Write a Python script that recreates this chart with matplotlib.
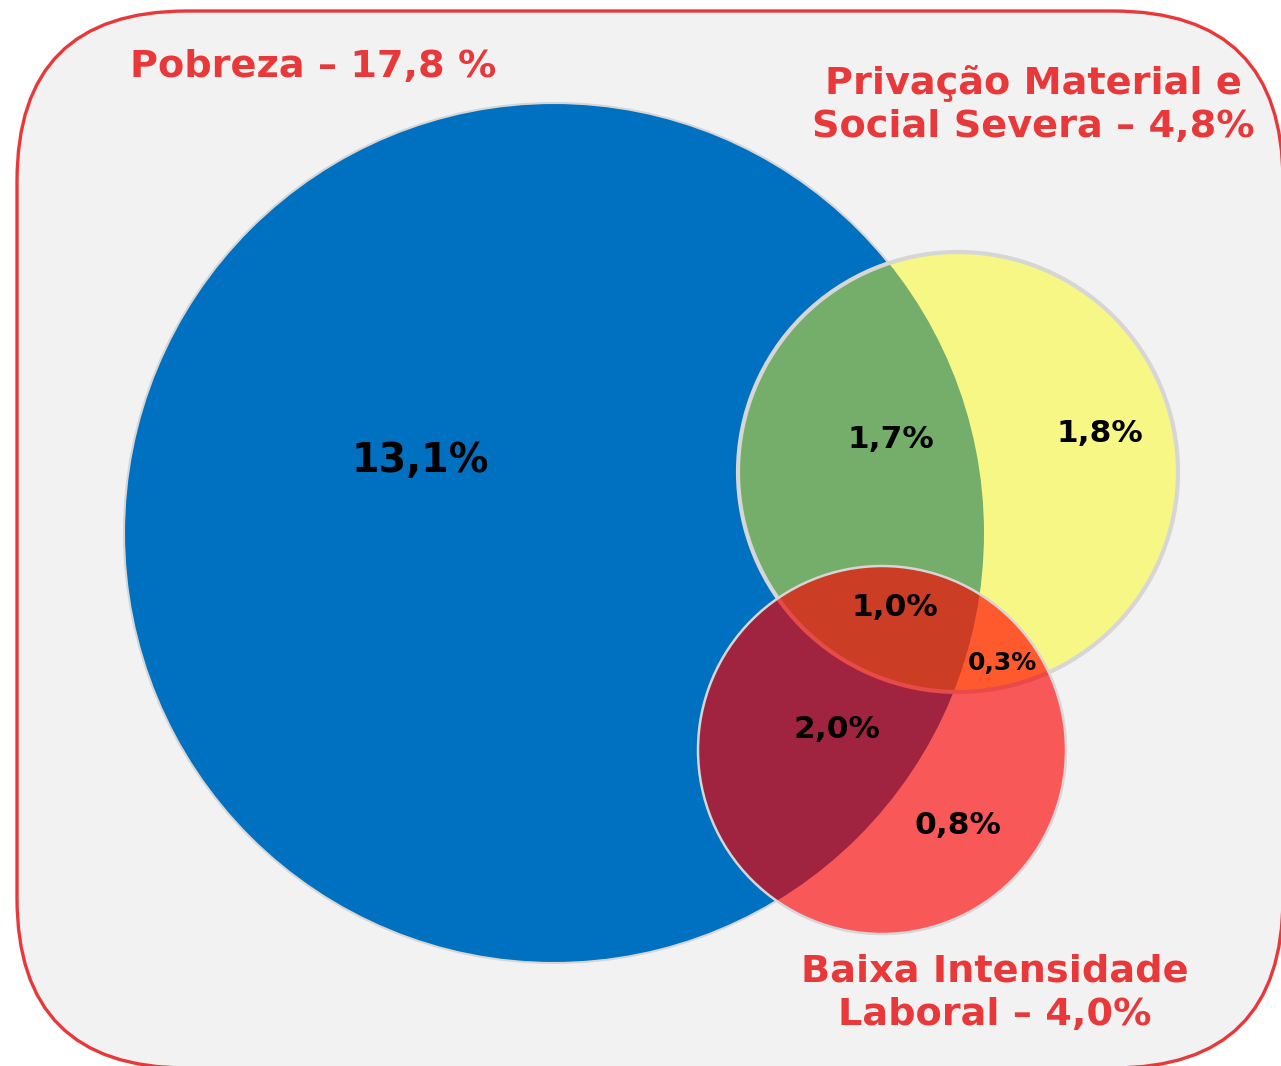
import numpy as np
import matplotlib
matplotlib.use("Agg")
import matplotlib.pyplot as plt
from matplotlib.patches import Circle, FancyBboxPatch, Polygon

# dados do diagrama
conjuntos = ["Pobreza – 17,8 %",
             "Privação Material e\nSocial Severa – 4,8%",
             "Baixa Intensidade\nLaboral – 4,0%"]
regioes = ["13,1%", "1,7%", "1,8%", "1,0%", "0,3%", "2,0%", "0,8%"]

# layout (pixels)
centros = [(554, 533), (958, 472), (882, 750)]
raios = [430, 220, 184]
pos_conj = [(313, 67), (1033, 105), (995, 993)]
pos_reg = [(420, 461), (891, 440), (1100, 434), (895, 608), (1002, 663), (837, 730), (958, 826)]
tam_reg = [28.5, 22.5, 22.5, 22.5, 18, 22.5, 22.5]

vermelho = "#e8383a"
cinza = "#d6d6d6"

fig = plt.figure(figsize=(12.81, 10.66), dpi=100)
ax = fig.add_axes([0, 0, 1, 1])
ax.set_xlim(0, 1281)
ax.set_ylim(1066, 0)
ax.set_aspect("equal")
ax.axis("off")

# fundo arredondado
fundo = FancyBboxPatch((17, 11), 1266, 1057, boxstyle="round,pad=0,rounding_size=170",
                       facecolor="#f2f2f2", edgecolor=vermelho, linewidth=2.4)
ax.add_patch(fundo)

def circulo(i, **kw):
    c = Circle(centros[i], raios[i], **kw)
    ax.add_patch(c)
    return c

# Pobreza
azul = circulo(0, facecolor="#0070c0", edgecolor=cinza, linewidth=1.5)
# Privação
amarelo = circulo(1, facecolor="#f7f786", edgecolor="none")
circulo(1, facecolor="#74ae6a", edgecolor="none").set_clip_path(azul)
circulo(1, facecolor="none", edgecolor=cinza, linewidth=3)
# Baixa intensidade
verm = circulo(2, facecolor="#f95858", edgecolor="none")
circulo(2, facecolor="#a0243f", edgecolor="none").set_clip_path(azul)
circulo(2, facecolor="#ff5a2e", edgecolor="none").set_clip_path(amarelo)

# interseção das três
t = np.linspace(0, 2 * np.pi, 2000)
def pontos(i):
    return np.c_[centros[i][0] + raios[i] * np.cos(t), centros[i][1] + raios[i] * np.sin(t)]
def dentro(p, i):
    return np.hypot(p[:, 0] - centros[i][0], p[:, 1] - centros[i][1]) <= raios[i]
pr, py = pontos(2), pontos(1)
pts = np.vstack([pr[dentro(pr, 1)], py[dentro(py, 2)]])
m = pts.mean(axis=0)
pts = pts[np.argsort(np.arctan2(pts[:, 1] - m[1], pts[:, 0] - m[0]))]
centro = Polygon(pts, closed=True, facecolor="#cc3d26", edgecolor="none")
ax.add_patch(centro)
centro.set_clip_path(azul)

# contorno do amarelo visto através do vermelho
circulo(1, facecolor="none", edgecolor="#e84a48", linewidth=3).set_clip_path(verm)
circulo(2, facecolor="none", edgecolor=cinza, linewidth=1.8)

for txt, (x, y) in zip(conjuntos, pos_conj):
    ax.text(x, y, txt, color=vermelho, fontsize=27.5, fontweight="bold",
            ha="center", va="center", linespacing=1.25, family="DejaVu Sans")

for txt, (x, y), s in zip(regioes, pos_reg, tam_reg):
    ax.text(x, y, txt, color="black", fontsize=s, fontweight="bold",
            ha="center", va="center", family="DejaVu Sans")

fig.savefig("out.png", dpi=100, facecolor="white")
